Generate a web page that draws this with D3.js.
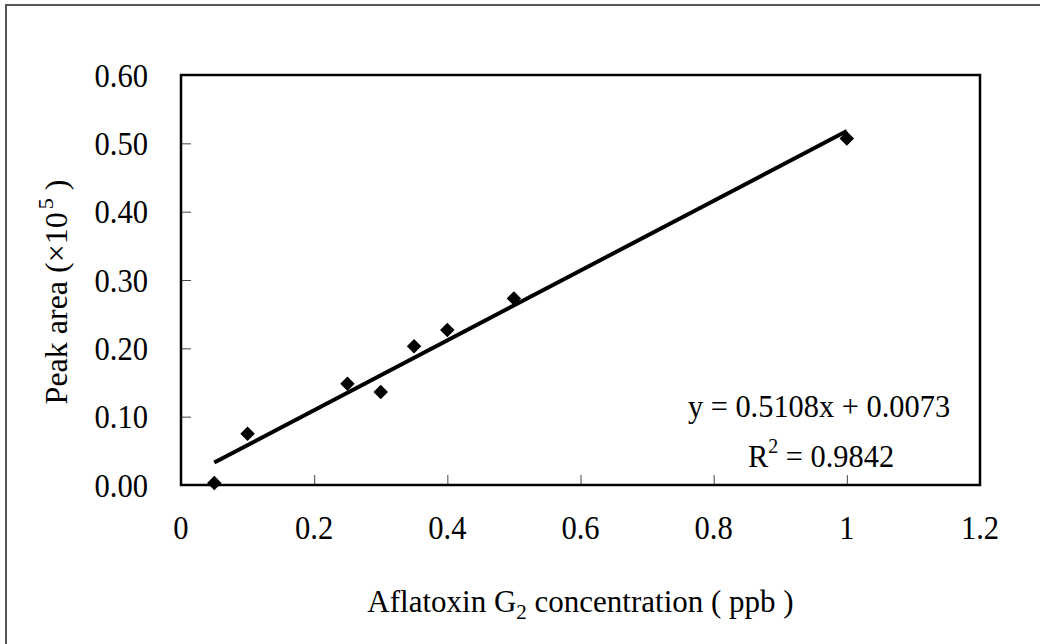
<!DOCTYPE html>
<html><head><meta charset="utf-8">
<script src="https://cdn.jsdelivr.net/npm/d3@7"></script>
<style>body{margin:0;background:#fff}svg{display:block}text{font-family:"Liberation Serif","Times New Roman",serif;fill:#000}</style>
</head><body>
<script>
const concentrations = [0.05, 0.1, 0.25, 0.3, 0.35, 0.4, 0.5, 1.0];
const peakAreas = [0.003, 0.075, 0.148, 0.136, 0.203, 0.227, 0.273, 0.507];
const xTicks = [0, 0.2, 0.4, 0.6, 0.8, 1.0, 1.2];
const xTickLabels = ["0", "0.2", "0.4", "0.6", "0.8", "1", "1.2"];
const yTicks = [0, 0.1, 0.2, 0.3, 0.4, 0.5, 0.6];
const yTickLabels = ["0.00", "0.10", "0.20", "0.30", "0.40", "0.50", "0.60"];
const slope = 0.5108, intercept = 0.0073;
const trendRange = [0.05, 1.0];

const W = 1040, H = 644;
const svg = d3.select("body").append("svg").attr("width", W).attr("height", H);
// outer chart border (partially visible)
svg.append("rect").attr("x", 6).attr("y", 5).attr("width", W + 20).attr("height", H + 20)
  .attr("fill", "none").attr("stroke", "#555").attr("stroke-width", 2);

const L = 181, R = 980, T = 75, B = 485;
const x = d3.scaleLinear().domain([0, 1.2]).range([L, R]);
const y = d3.scaleLinear().domain([0, 0.6]).range([B, T]);

// ticks (inward)
const xAxis = d3.axisTop(x).tickValues(xTicks).tickSize(10).tickFormat("");
svg.append("g").attr("transform", `translate(0,${B})`).call(xAxis)
  .call(g => g.select(".domain").remove())
  .call(g => g.selectAll("line").attr("stroke", "#444").attr("stroke-width", 1));
const yAxis = d3.axisRight(y).tickValues(yTicks).tickSize(10).tickFormat("");
svg.append("g").attr("transform", `translate(${L},0)`).call(yAxis)
  .call(g => g.select(".domain").remove())
  .call(g => g.selectAll("line").attr("stroke", "#444").attr("stroke-width", 1));

// plot frame
svg.append("rect").attr("x", L).attr("y", T).attr("width", R - L).attr("height", B - T)
  .attr("fill", "none").attr("stroke", "#000").attr("stroke-width", 2.5);

// tick labels (tall, slightly condensed serif)
svg.append("g").selectAll("text").data(xTicks).join("text")
  .attr("transform", d => `translate(${x(d)},539) scale(0.9,1)`).attr("text-anchor", "middle")
  .attr("font-size", 34).text((d, i) => xTickLabels[i]);
svg.append("g").selectAll("text").data(yTicks).join("text")
  .attr("transform", d => `translate(148,${y(d) + 11.5}) scale(0.9,1)`).attr("text-anchor", "end")
  .attr("font-size", 34).text((d, i) => yTickLabels[i]);

// trendline
svg.append("line")
  .attr("x1", x(trendRange[0])).attr("y1", y(slope * trendRange[0] + intercept))
  .attr("x2", x(trendRange[1])).attr("y2", y(slope * trendRange[1] + intercept))
  .attr("stroke", "#000").attr("stroke-width", 4);

// points
const pts = concentrations.map((c, i) => [c, peakAreas[i]]);
svg.append("g").selectAll("path").data(pts).join("path")
  .attr("d", d3.symbol().type(d3.symbolSquare).size(105))
  .attr("transform", d => `translate(${x(d[0])},${y(d[1])}) rotate(45)`)
  .attr("fill", "#000");

// equation
const eq = svg.append("g").attr("font-size", 32).attr("text-anchor", "middle");
eq.append("text").attr("transform", "translate(819,417) scale(0.95,1)").text("y = 0.5108x + 0.0073");
const r2 = eq.append("text").attr("transform", "translate(821,467) scale(0.95,1)");
r2.append("tspan").text("R");
r2.append("tspan").attr("font-size", 21).attr("dy", -14).text("2");
r2.append("tspan").attr("dy", 14).text(" = 0.9842");

// x title
const xt = svg.append("text").attr("x", (L + R) / 2).attr("y", 612).attr("text-anchor", "middle").attr("font-size", 31);
xt.append("tspan").text("Aflatoxin G");
xt.append("tspan").attr("font-size", 21).attr("dy", 7).text("2");
xt.append("tspan").attr("dy", -7).text(" concentration ( ppb )");

// y title
const yt = svg.append("text").attr("transform", `translate(67,${(T + B) / 2 + 12}) rotate(-90)`)
  .attr("text-anchor", "middle").attr("font-size", 32);
yt.append("tspan").text("Peak area (×10");
yt.append("tspan").attr("font-size", 22).attr("dy", -14).attr("dx", 3).text("5");
yt.append("tspan").attr("dy", 14).text("  )");
</script>
</body></html>
